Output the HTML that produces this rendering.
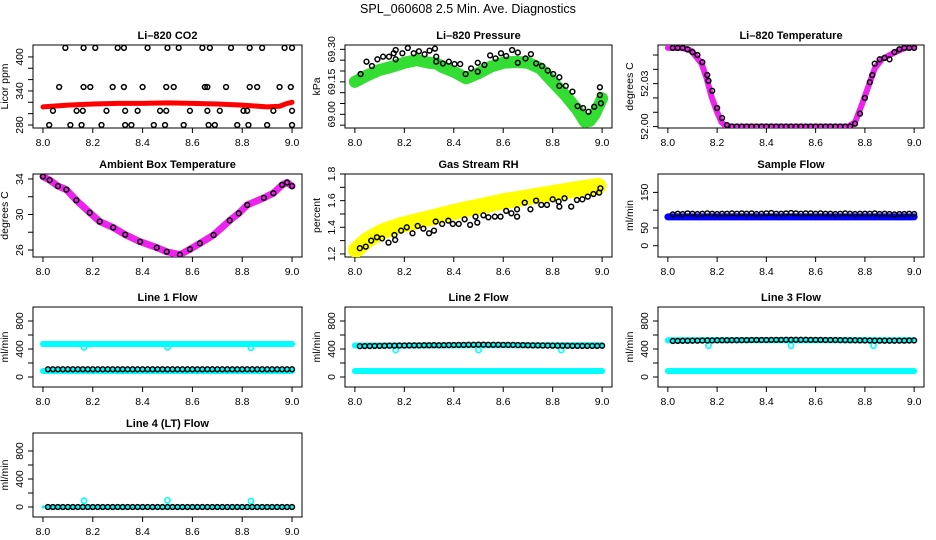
<!DOCTYPE html>
<html><head><meta charset="utf-8">
<style>
html,body{margin:0;padding:0;background:#fff;}
svg{display:block;font-family:"Liberation Sans",Arial,sans-serif;}
</style></head>
<body>
<svg id="chart" width="936" height="540" viewBox="0 0 936 540">
<text x="468" y="13" text-anchor="middle" font-size="12.5">SPL_060608  2.5 Min. Ave. Diagnostics</text>
</svg>
<script>
// ---------- data ----------
const xTicks = [8.0, 8.2, 8.4, 8.6, 8.8, 9.0];
const xTickLabels = ["8.0", "8.2", "8.4", "8.6", "8.8", "9.0"];
const flowT = [8.02,8.04,8.06,8.08,8.10,8.12,8.14,8.16,8.18,8.20,8.22,8.24,8.26,8.28,8.30,8.32,8.34,8.36,8.38,8.40,8.42,8.44,8.46,8.48,8.50,8.52,8.54,8.56,8.58,8.60,8.62,8.64,8.66,8.68,8.70,8.72,8.74,8.76,8.78,8.80,8.82,8.84,8.86,8.88,8.90,8.92,8.94,8.96,8.98,9.00];

// CO2
const co2BandX = [8.0,8.1,8.2,8.3,8.4,8.5,8.6,8.7,8.8,8.9,8.95,8.98,9.0];
const co2BandY = [312,315,317,318,318,319,318,317,315,312,313,318,320];
const co2X = [8.09,8.163,8.21,8.30,8.325,8.42,8.50,8.545,8.64,8.67,8.755,8.83,8.88,8.97,9.0,
  8.065,8.163,8.19,8.28,8.325,8.40,8.495,8.525,8.65,8.66,8.735,8.83,8.86,8.95,8.995,
  8.04,8.135,8.16,8.255,8.33,8.38,8.47,8.495,8.59,8.66,8.71,8.805,8.82,8.925,9.0,
  8.025,8.11,8.155,8.235,8.33,8.355,8.445,8.49,8.565,8.665,8.69,8.78,8.825,8.90,9.0];
const co2Y = [416,416,416,416,416,416,416,416,416,416,416,416,416,416,416,
  347,347,347,347,347,347,347,347,347,347,347,347,347,347,347,
  305,305,305,305,305,305,305,305,305,305,305,305,305,305,305,
  280,280,280,280,280,280,280,280,280,280,280,280,280,280,280];

// Pressure
const presBandX = [8.0,8.05,8.1,8.15,8.2,8.25,8.3,8.33,8.35,8.4,8.45,8.5,8.55,8.6,8.65,8.7,8.75,8.8,8.85,8.9,8.93,8.95,8.97,9.0];
const presBandY = [69.15,69.18,69.205,69.22,69.238,69.25,69.238,69.235,69.22,69.197,69.166,69.19,69.22,69.238,69.242,69.238,69.212,69.15,69.09,69.02,68.966,68.97,69.0,69.074];
const presX = [8.023,8.047,8.069,8.091,8.114,8.138,8.157,8.165,8.165,8.192,8.214,8.238,8.259,8.282,8.302,8.324,8.329,8.329,8.356,8.380,8.403,8.426,8.448,8.470,8.497,8.497,8.524,8.547,8.569,8.591,8.612,8.636,8.659,8.659,8.690,8.712,8.733,8.757,8.780,8.802,8.827,8.827,8.853,8.880,8.901,8.923,8.945,8.968,8.991,8.991,8.995];
const presY = [69.186,69.243,69.223,69.254,69.266,69.266,69.282,69.297,69.254,69.282,69.306,69.282,69.291,69.277,69.294,69.303,69.266,69.243,69.235,69.243,69.232,69.232,69.186,69.212,69.238,69.197,69.228,69.272,69.258,69.282,69.269,69.297,69.285,69.238,69.258,69.278,69.235,69.223,69.202,69.186,69.171,69.131,69.131,69.105,69.038,69.029,69.012,69.035,69.125,69.089,69.051];

// Li-820 Temperature
const tempBandX = [8.0,8.056,8.096,8.137,8.157,8.177,8.198,8.218,8.238,8.733,8.760,8.787,8.814,8.841,8.869,8.923,8.963,9.0];
const tempBandY = [52.055,52.055,52.053,52.044,52.034,52.021,52.011,52.003,52.0,52.0,52.003,52.015,52.028,52.041,52.047,52.052,52.055,52.056];
const tempX = [8.02,8.04,8.06,8.08,8.10,8.12,8.14,8.16,8.165,8.18,8.20,8.22,8.24,8.26,8.28,8.30,8.32,8.34,8.36,8.38,8.40,8.42,8.44,8.46,8.48,8.50,8.52,8.54,8.56,8.58,8.60,8.62,8.64,8.66,8.68,8.70,8.72,8.74,8.76,8.78,8.80,8.82,8.83,8.84,8.86,8.88,8.90,8.92,8.94,8.96,8.98,9.0];
const tempY = [52.055,52.055,52.055,52.054,52.052,52.050,52.045,52.036,52.032,52.025,52.013,52.006,52.001,52.0,52.0,52.0,52.0,52.0,52.0,52.0,52.0,52.0,52.0,52.0,52.0,52.0,52.0,52.0,52.0,52.0,52.0,52.0,52.0,52.0,52.0,52.0,52.0,52.0,52.002,52.009,52.020,52.031,52.036,52.044,52.047,52.048,52.047,52.052,52.054,52.055,52.055,52.055];

// Ambient box temperature
const ambX = [8.0,8.027,8.06,8.094,8.134,8.188,8.228,8.282,8.33,8.39,8.457,8.497,8.55,8.59,8.63,8.685,8.75,8.786,8.82,8.887,8.925,8.96,8.98,9.0];
const ambY = [34.27,33.87,33.2,32.8,31.6,30.2,29.2,28.53,27.73,26.93,26.27,25.8,25.47,26.08,26.75,27.69,29.33,30.13,31.07,31.87,32.4,33.33,33.6,33.2];

// Gas stream RH
const rhBandX = [8.004,8.05,8.11,8.19,8.27,8.353,8.434,8.515,8.595,8.676,8.757,8.837,8.918,8.985];
const rhBandY = [1.23,1.305,1.368,1.418,1.455,1.493,1.53,1.56,1.593,1.618,1.643,1.668,1.693,1.71];
const rhX = [8.02,8.044,8.066,8.089,8.11,8.136,8.16,8.163,8.187,8.21,8.233,8.254,8.277,8.30,8.32,8.327,8.353,8.378,8.396,8.42,8.444,8.466,8.488,8.495,8.52,8.54,8.566,8.589,8.612,8.633,8.656,8.656,8.687,8.71,8.733,8.754,8.777,8.80,8.824,8.827,8.848,8.875,8.898,8.92,8.942,8.965,8.988,8.993];
const rhY = [1.243,1.255,1.30,1.325,1.317,1.285,1.342,1.305,1.375,1.40,1.355,1.41,1.39,1.355,1.375,1.443,1.425,1.45,1.425,1.425,1.46,1.418,1.48,1.435,1.49,1.475,1.48,1.48,1.523,1.505,1.535,1.48,1.585,1.535,1.60,1.568,1.568,1.61,1.593,1.555,1.618,1.555,1.605,1.61,1.63,1.65,1.66,1.693];

// Sample flow
const sampleBandX = [8.0,9.0];
const sampleBandY = [81,81];
const sampleBlack = [88,90,89,91,90,89,90,91,90,89,90,90,91,90,91,90,91,89,90,91,92,90,90,91,92,91,90,91,91,90,91,90,90,89,90,91,90,89,90,90,90,91,89,90,89,88,89,89,90,89];

// Line flows
const line1BandHi = [471,471];
const line1BandLo = [86,86];
const line1Black = [110,110,110,110,110,110,110,111,110,110,110,110,110,110,110,111,110,110,110,110,110,110,110,111,110,110,110,110,110,110,110,110,111,110,110,110,110,110,110,110,111,110,110,110,110,110,110,110,110,110];
const line1SpikeX = [8.165,8.5,8.835];
const line1SpikeY = [424,424,418];

const line2BandHi = [450,455];
const line2BandLo = [86,86];
const line2Black = [440,442,442,444,445,446,447,448,450,450,451,452,452,453,454,455,454,455,456,457,458,459,460,460,462,462,461,460,460,459,458,458,456,455,454,452,451,450,449,448,447,446,446,445,445,444,444,444,445,446];
const line2SpikeX = [8.165,8.5,8.835];
const line2SpikeY = [386,386,386];

const line3BandHi = [525,525];
const line3BandLo = [86,86];
const line3Black = [515,516,517,518,519,520,521,522,523,524,525,525,526,526,527,527,528,528,529,529,530,530,530,531,531,531,531,531,530,530,530,529,528,528,527,526,525,524,523,522,521,520,520,519,519,519,520,520,521,522];
const line3SpikeX = [8.165,8.5,8.835];
const line3SpikeY = [447,447,447];

const line4BandHi = [0,0];
const line4Black = [0,0,0,0,0,0,0,0,0,0,0,0,0,0,0,0,0,0,0,0,0,0,0,0,0,0,0,0,0,0,0,0,0,0,0,0,0,0,0,0,0,0,0,0,0,0,0,0,0,0];
const line4SpikeX = [8.165,8.5,8.835];
const line4SpikeY = [90,95,85];

const flowBandX = [8.0,9.0];

// ---------- drawing ----------
const NS = "http://www.w3.org/2000/svg";
const svg = document.getElementById("chart");
function mk(tag, parent) { const e = document.createElementNS(NS, tag); parent.appendChild(e); return e; }

function panel(cfg) {
  const g = mk("g", svg);
  
  
  const xs = v => cfg.l + (v - 7.96) / 1.08 * (cfg.r - cfg.l);
  const ys = v => cfg.b - (v - cfg.ymin) / (cfg.ymax - cfg.ymin) * (cfg.b - cfg.t);
  cfg.xs = xs; cfg.ys = ys; cfg.g = g;
  const tt = mk("text", g);
  
  
  tt.setAttribute("x", (cfg.l + cfg.r) / 2); tt.setAttribute("y", cfg.t - 6);
  tt.setAttribute("text-anchor", "middle"); tt.setAttribute("font-size", "11"); tt.setAttribute("font-weight", "bold");
  tt.textContent = cfg.title;
  const bx = mk("rect", g);
  
  
  bx.setAttribute("x", cfg.l); bx.setAttribute("y", cfg.t); bx.setAttribute("width", cfg.r - cfg.l); bx.setAttribute("height", cfg.b - cfg.t);
  bx.setAttribute("fill", "none"); bx.setAttribute("stroke", "#000"); bx.setAttribute("stroke-width", "1");
  const xa = mk("g", g);
  
  
  xTicks.forEach((v, i) => {
    const ln = mk("line", xa);
    
    
    ln.setAttribute("x1", xs(v)); ln.setAttribute("x2", xs(v)); ln.setAttribute("y1", cfg.b); ln.setAttribute("y2", cfg.b + 5); ln.setAttribute("stroke", "#000");
    const tx = mk("text", xa);
    
    
    tx.setAttribute("x", xs(v)); tx.setAttribute("y", cfg.b + 18); tx.setAttribute("text-anchor", "middle"); tx.setAttribute("font-size", "10.5");
    tx.textContent = xTickLabels[i];
  });
  const ya = mk("g", g);
  
  
  cfg.yTicks.forEach(v => {
    const y = ys(v);
    const ln = mk("line", ya);
    
    
    ln.setAttribute("x1", cfg.l - 5); ln.setAttribute("x2", cfg.l); ln.setAttribute("y1", y); ln.setAttribute("y2", y); ln.setAttribute("stroke", "#000");
  });
  cfg.yLabels.forEach((s, i) => {
    const y = ys(cfg.yLabelVals[i]);
    const tx = mk("text", ya);
    
    
    tx.setAttribute("transform", "translate(" + (cfg.l - 10) + "," + y + ") rotate(-90)");
    tx.setAttribute("text-anchor", "middle"); tx.setAttribute("font-size", "10.5");
    tx.textContent = s;
  });
  const yt = mk("text", ya);
  
  
  yt.setAttribute("transform", "translate(" + (cfg.l - 25) + "," + ((cfg.t + cfg.b) / 2) + ") rotate(-90)");
  yt.setAttribute("text-anchor", "middle"); yt.setAttribute("font-size", "10.5");
  yt.textContent = cfg.ytitle;
  const cp = mk("clipPath", g); cp.setAttribute("id", "clip-" + cfg.name);
  const cr = mk("rect", cp); cr.setAttribute("x", cfg.l); cr.setAttribute("y", cfg.t); cr.setAttribute("width", cfg.r - cfg.l); cr.setAttribute("height", cfg.b - cfg.t);
  const data = mk("g", g);
  data.setAttribute("clip-path", "url(#clip-" + cfg.name + ")");
  cfg.data = data;
  return cfg;
}

function band(cfg, X, Y, color, w) {
  const pl = mk("polyline", cfg.data);
  
  
  pl.setAttribute("points", X.map((v, i) => cfg.xs(v) + "," + cfg.ys(Y[i])).join(" "));
  pl.setAttribute("fill", "none"); pl.setAttribute("stroke", color); pl.setAttribute("stroke-width", w);
  pl.setAttribute("stroke-linejoin", "round"); pl.setAttribute("stroke-linecap", "round");
}
function pts(cfg, X, Y, color, r, sw) {
  X.forEach((v, i) => {
    const c = mk("circle", cfg.data);
    
    
    c.setAttribute("cx", cfg.xs(v)); c.setAttribute("cy", cfg.ys(Y[i])); c.setAttribute("r", r || 2.4);
    c.setAttribute("fill", "none"); c.setAttribute("stroke", color || "#000"); c.setAttribute("stroke-width", sw || 1.5);
  });
}
function seq(a, b, s) { const o = []; for (let v = a; v <= b + 1e-9; v += s) o.push(+v.toFixed(4)); return o; }

const C1 = [33, 302], C2 = [345, 612], C3 = [658, 924];
const R1 = [45, 128], R2 = [174, 257], R3 = [307, 387], R4 = [433, 517];

let p = panel({name: "li820-co2-panel", title: "Li\u2013820 CO2", ytitle: "Licor ppm", l: C1[0], r: C1[1], t: R1[0], b: R1[1], ymin: 274.7, ymax: 421,
  yTicks: seq(280, 400, 20), yLabels: ["280", "340", "400"], yLabelVals: [280, 340, 400]});
band(p, co2BandX, co2BandY, "#ff0000", 5);
pts(p, co2X, co2Y);

p = panel({name: "li820-pressure-panel", title: "Li\u2013820 Pressure", ytitle: "kPa", l: C2[0], r: C2[1], t: R1[0], b: R1[1], ymin: 68.937, ymax: 69.32,
  yTicks: seq(68.95, 69.30, 0.05), yLabels: ["69.00", "69.15", "69.30"], yLabelVals: [69.0, 69.15, 69.30]});
band(p, presBandX, presBandY, "#33dd33", 12);
pts(p, presX, presY);

p = panel({name: "li820-temperature-panel", title: "Li\u2013820 Temperature", ytitle: "degrees C", l: C3[0], r: C3[1], t: R1[0], b: R1[1], ymin: 51.999, ymax: 52.057,
  yTicks: seq(52.0, 52.05, 0.01), yLabels: ["52.00", "52.03"], yLabelVals: [52.0, 52.03]});
band(p, tempBandX, tempBandY, "#ee22ee", 6);
pts(p, tempX, tempY);

p = panel({name: "ambient-box-temperature-panel", title: "Ambient Box Temperature", ytitle: "degrees C", l: C1[0], r: C1[1], t: R2[0], b: R2[1], ymin: 25.21, ymax: 34.56,
  yTicks: [26, 28, 30, 32, 34], yLabels: ["26", "30", "34"], yLabelVals: [26, 30, 34]});
band(p, ambX, ambY, "#ee22ee", 7);
pts(p, ambX, ambY);

p = panel({name: "gas-stream-rh-panel", title: "Gas Stream RH", ytitle: "percent", l: C2[0], r: C2[1], t: R2[0], b: R2[1], ymin: 1.177, ymax: 1.8,
  yTicks: [1.2, 1.3, 1.4, 1.5, 1.6, 1.7, 1.8], yLabels: ["1.2", "1.4", "1.6", "1.8"], yLabelVals: [1.2, 1.4, 1.6, 1.8]});
band(p, rhBandX, rhBandY, "#ffff00", 16);
pts(p, rhX, rhY);

p = panel({name: "sample-flow-panel", title: "Sample Flow", ytitle: "ml/min", l: C3[0], r: C3[1], t: R2[0], b: R2[1], ymin: -31.7, ymax: 201.7,
  yTicks: [0, 50, 100, 150], yLabels: ["0", "50", "150"], yLabelVals: [0, 50, 150]});
band(p, sampleBandX, sampleBandY, "#0000ff", 7);
pts(p, flowT, sampleBlack);

function flowPanel(name, title, col, row, ymax, hi, lo, black, sx, sy, bw) {
  const q = panel({name: name, title: title, ytitle: "ml/min", l: col[0], r: col[1], t: row[0], b: row[1], ymin: -143, ymax: ymax,
    yTicks: [0, 200, 400, 600, 800], yLabels: ["0", "400", "800"], yLabelVals: [0, 400, 800]});
  band(q, flowBandX, hi, "#00ffff", bw);
  if (lo) band(q, flowBandX, lo, "#00ffff", bw);
  pts(q, sx, sy, "#00ffff", 2.6, 1.6);
  pts(q, flowT, black);
}
flowPanel("line-1-flow-panel", "Line 1 Flow", C1, R3, 1000, line1BandHi, line1BandLo, line1Black, line1SpikeX, line1SpikeY, 6);
flowPanel("line-2-flow-panel", "Line 2 Flow", C2, R3, 1000, line2BandHi, line2BandLo, line2Black, line2SpikeX, line2SpikeY, 6);
flowPanel("line-3-flow-panel", "Line 3 Flow", C3, R3, 1000, line3BandHi, line3BandLo, line3Black, line3SpikeX, line3SpikeY, 6);
flowPanel("line-4-lt-flow-panel", "Line 4 (LT) Flow", C1, R4, 1057, line4BandHi, null, line4Black, line4SpikeX, line4SpikeY, 3);
</script>
</body></html>
